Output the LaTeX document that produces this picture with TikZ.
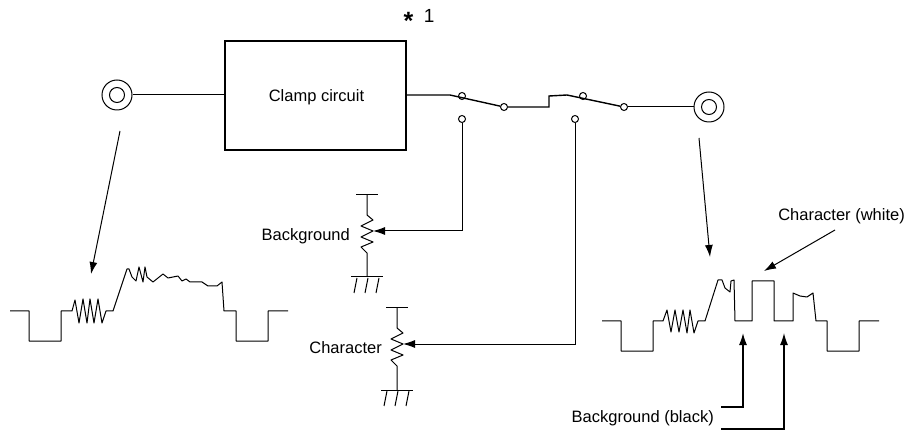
\documentclass[tikz,border=0pt]{standalone}
\usepackage{fontspec}
\setmainfont{Liberation Sans}
\usetikzlibrary{arrows.meta,positioning}
\tikzset{
  lbl/.style={inner sep=0pt,font=\fontsize{16.5}{18}\selectfont},
  term/.style={circle,draw,fill=white,inner sep=0pt,minimum size=7pt,line width=1pt},
  jackout/.style={circle,draw,inner sep=0pt,minimum size=30pt,line width=1pt},
  jackin/.style={circle,draw,inner sep=0pt,minimum size=15pt,line width=1pt},
  wire/.style={line width=1pt},
  tip/.style={line width=1pt,-{Latex[length=12pt,width=8pt]}},
  wave/.style={line width=1pt,line join=round}
}
\begin{document}
\begin{tikzpicture}[x=1pt,y=-1pt]
\useasboundingbox (0,0) rectangle (913,430);

% input, clamp, output
\node [jackout] (in) at (117,95) {};
\node [jackin] (in_c) at (117,95) {};
\node [draw,line width=2.4pt,minimum width=181pt,minimum height=109pt,inner sep=0pt] (clamp) at (315.5,95.5) {};
\node [lbl] (clamp_t) at (316.5,97) {Clamp circuit};
\node [lbl,font=\fontsize{19}{20}\selectfont] (note) at (419,19.5) {\raisebox{-7pt}{\fontsize{25}{25}\selectfont\textbf{*}}\ \ 1};
\node [jackout] (out) at (709,107) {};
\node [jackin] (out_c) at (709,107) {};

% switches
\node [term] (sw_a) at (462,96) {};
\node [term] (sw_b) at (504,107) {};
\node [term] (sw_c) at (462,119) {};
\node [term] (sw_d) at (583,96) {};
\node [term] (sw_e) at (624,107) {};
\node [term] (sw_f) at (575,119) {};
\coordinate (blade_a) at (450,95);
\coordinate (blade_d) at (567,95);
\coordinate (step_a) at (549,107);
\coordinate (step_b) at (549,96);

\draw [wire] (in) -- (clamp.west |- in);
\draw [wire,line width=1.4pt] (clamp.east |- blade_a) -- (blade_a) -- (sw_b);
\draw [wire,line width=1.4pt] (sw_b) -- (step_a) -- (step_b) -- (blade_d) -- (sw_e);
\draw [wire] (sw_e) -- (out);

% the two pots
\foreach \n/\x/\y in {bg/367/0,ch/397/113}{
  \coordinate (\n_top) at (\x,195+\y);
  \coordinate (\n_gnd) at (\x,277+\y);
  \coordinate (\n_wiper) at (\x+6,231+\y);
  \draw [wire] (\x-11,195+\y) -- (\x+11,195+\y);
  \draw [wire,line join=round] (\n_top) -- (\x,215+\y) -- (\x+6,220+\y) -- (\x-6,226+\y) -- (\x+6,231+\y)
    -- (\x-6,237+\y) -- (\x+6,242+\y) -- (\x-6,247+\y) -- (\x,253+\y) -- (\n_gnd);
  \draw [wire] (\x-16,277+\y) -- (\x+16,277+\y);
  \foreach \k in {-11,0,11}
    \draw [wire] (\x+\k+1,278+\y) -- (\x+\k-2,293+\y);
}
\draw [tip] (sw_c) |- (bg_wiper);
\draw [tip] (sw_f) |- (ch_wiper);
\node [lbl,anchor=east] (bg_t) at (350,236) {Background};
\node [lbl,anchor=east] (ch_t) at (382,348) {Character};

% input waveform
\draw [wave] (10,311) -- (29,311) -- (29,341) -- (61,341) -- (61,311) -- (72,311) -- (75,300) -- (79,323)
  -- (83,299) -- (87,323) -- (90,299) -- (94,323) -- (98,299) -- (102,323) -- (106,311) -- (113,311)
  -- (127,269) -- (129,269) -- (132,277) -- (136,281) -- (139,267) -- (143,282) -- (145,267) -- (147,277)
  -- (153,282) -- (163,274) -- (168,278) -- (178,276) -- (182,281) -- (186,279) -- (190,282) -- (202,282)
  -- (208,286) -- (217,286) -- (222,282) -- (224,311) -- (236,311) -- (236,341) -- (268,341) -- (268,311) -- (288,311);

% output waveform
\draw [wave] (602,321) -- (621,321) -- (621,351) -- (653,351) -- (653,321) -- (663,321) -- (667,310) -- (671,332)
  -- (675,310) -- (679,332) -- (683,310) -- (687,333) -- (690,310) -- (694,333) -- (698,321) -- (705,321)
  -- (718,280) -- (722,280) -- (725,288) -- (730,292) -- (731,281) -- (734,280) -- (735,321) -- (752,321)
  -- (752,281) -- (774,281) -- (774,321) -- (793,321) -- (793,293) -- (800,296) -- (807,297) -- (813,293)
  -- (816,321) -- (827,321) -- (827,351) -- (859,351) -- (859,321) -- (879,321);

% pointers
\coordinate (in_from) at (120,131);
\coordinate (in_to) at (91,274);
\coordinate (out_from) at (699,138);
\coordinate (out_to) at (710,257);
\coordinate (white_from) at (835,230);
\coordinate (white_to) at (764,271);
\coordinate (black_a) at (743,333);
\coordinate (black_b) at (784,333);
\coordinate (black_c) at (784,429);
\coordinate (black_d) at (743,407);
\coordinate (black_e) at (721,407);
\coordinate (black_f) at (721,429);
\draw [tip] (in_from) -- (in_to);
\draw [tip] (out_from) -- (out_to);
\node [lbl,anchor=east] (white_t) at (905,216) {Character (white)};
\draw [tip] (white_from) -- (white_to);
\draw [tip,line width=1.5pt] (black_e) -- (black_d) -- (black_a);
\draw [tip,line width=1.3pt] (black_f) -- (black_c) -- (black_b);
\node [lbl,anchor=east] (black_t) at (714,418) {Background (black)};
\end{tikzpicture}
\end{document}
